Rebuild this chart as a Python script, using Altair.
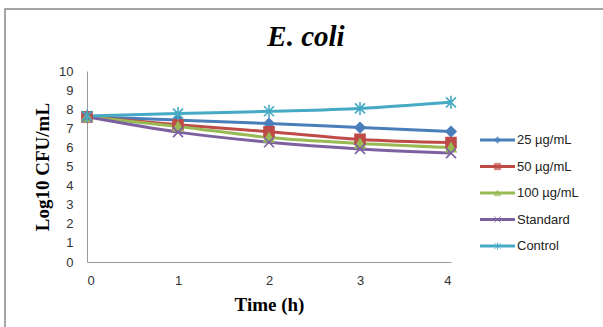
import altair as alt
import pandas as pd

times = [0, 1, 2, 3, 4]
series_names = ["25 µg/mL", "50 µg/mL", "100 µg/mL", "Standard", "Control"]
v25 = [7.6, 7.43, 7.25, 7.04, 6.83]
v50 = [7.6, 7.18, 6.82, 6.42, 6.26]
v100 = [7.6, 7.1, 6.52, 6.21, 6.0]
vstd = [7.6, 6.8, 6.27, 5.92, 5.7]
vctrl = [7.65, 7.77, 7.89, 8.04, 8.36]
y_ticks = [0, 1, 2, 3, 4, 5, 6, 7, 8, 9, 10]
colors = ["#4A7EBB", "#BE4B48", "#98B954", "#7D60A0", "#46AAC5"]
shapes = ["diamond", "square", "triangle-up",
          "M-1,-1L1,1M-1,1L1,-1",
          "M-1,-1L1,1M-1,1L1,-1M0,-1.3L0,1.3"]
title_text = "E. coli"

all_vals = [v25, v50, v100, vstd, vctrl]
rows = []
for name, vals in zip(series_names, all_vals):
    for t, v in zip(times, vals):
        rows.append({"series": name, "time": t, "value": v})
df = pd.DataFrame(rows)
leg_df = pd.DataFrame({"series": series_names})

W, H = 364, 191
PL, PT, PR, PB = 87, 71, 152, 65

color_scale = alt.Scale(domain=series_names, range=colors)
shape_scale = alt.Scale(domain=series_names, range=shapes)

base = alt.Chart(df)
x_enc = alt.X("time:Q", scale=alt.Scale(domain=[0, 4], nice=False),
              axis=alt.Axis(values=times, format="d", title="Time (h)", ticks=False, grid=False,
                            labelPadding=12, titlePadding=8, labelOverlap=False,
                            labelFont="Liberation Sans", labelFontSize=13, labelColor="#333",
                            titleFont="Liberation Serif", titleFontSize=19, titleFontWeight="bold",
                            titleColor="#000", domainColor="#999"))
y_enc = alt.Y("value:Q", scale=alt.Scale(domain=[0, 10], nice=False),
              axis=alt.Axis(values=y_ticks, tickCount=11, orient="left", title="Log10 CFU/mL",
                            ticks=False, grid=False, labelPadding=14, titlePadding=6,
                            labelOverlap=False, format="d",
                            labelFont="Liberation Sans", labelFontSize=13, labelColor="#333",
                            titleFont="Liberation Serif", titleFontSize=19, titleFontWeight="bold",
                            titleColor="#000", domainColor="#999"))

lines = base.mark_line(strokeWidth=3, interpolate="monotone").encode(
    x=x_enc, y=y_enc,
    color=alt.Color("series:N", scale=color_scale, legend=None),
    detail="series:N",
    order="time:Q",
)
points = base.mark_point(filled=True, size=100, strokeWidth=1.6, opacity=1).encode(
    x=x_enc, y=y_enc,
    color=alt.Color("series:N", scale=color_scale, legend=None),
    stroke=alt.Stroke("series:N", scale=color_scale, legend=None),
    shape=alt.Shape("series:N", scale=shape_scale, legend=None),
)
data_layer = alt.layer(lines, points)

leg_y = alt.Y("series:N", scale=alt.Scale(type="point", padding=0, domain=series_names,
                                          range=[69, 175]), axis=None)
leg_base = alt.Chart(leg_df)
leg_rule = leg_base.mark_rule(strokeWidth=3).encode(
    x=alt.value(393), x2=alt.value(428), y=leg_y,
    color=alt.Color("series:N", scale=color_scale, legend=None),
)
leg_pt = leg_base.mark_point(filled=True, size=40, strokeWidth=1).encode(
    x=alt.value(410.5), y=leg_y,
    color=alt.Color("series:N", scale=color_scale, legend=None),
    stroke=alt.Stroke("series:N", scale=color_scale, legend=None),
    shape=alt.Shape("series:N", scale=shape_scale, legend=None),
)
leg_txt = leg_base.mark_text(align="left", baseline="middle", font="Liberation Sans",
                             fontSize=13, color="#222").encode(
    x=alt.value(430), y=leg_y, text="series:N",
)
leg_layer = alt.layer(leg_rule, leg_pt, leg_txt)

one = alt.Chart(pd.DataFrame({"t": [title_text]}))
frame = one.mark_rect(fill=None, stroke="#888", strokeWidth=1.5, clip=False).encode(
    x=alt.value(-82), x2=alt.value(W + PR + 10),
    y=alt.value(-62), y2=alt.value(H + PB + 10),
)
title = one.mark_text(font="Liberation Serif", fontSize=29, fontWeight="bold",
                      fontStyle="italic", color="#000", align="center",
                      baseline="alphabetic").encode(
    x=alt.value(219), y=alt.value(-25), text="t:N",
)

chart = alt.layer(frame, title, data_layer, leg_layer).resolve_scale(
    y="independent"
).properties(
    width=W, height=H,
    padding={"left": PL, "top": PT, "right": PR, "bottom": PB},
    autosize=alt.AutoSizeParams(type="none"),
    background="white",
).configure_view(stroke=None)

chart.save("out.html", embed_options={"renderer": "svg", "actions": False})
